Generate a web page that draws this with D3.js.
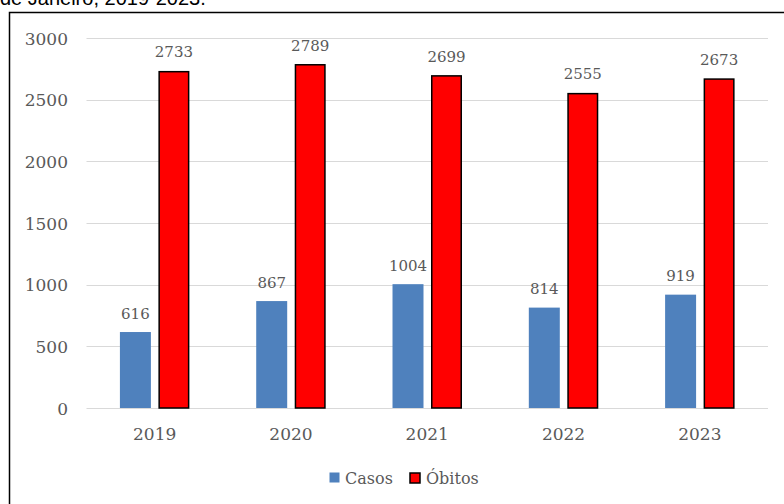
<!DOCTYPE html>
<html>
<head>
<meta charset="utf-8">
<script src="https://cdn.jsdelivr.net/npm/d3@7"></script>
<style>
  html, body { margin: 0; padding: 0; background: #fff; }
  svg { display: block; }
</style>
</head>
<body>
<script>
const years = ["2019", "2020", "2021", "2022", "2023"];
const seriesNames = ["Casos", "Óbitos"];
const casos = [616, 867, 1004, 814, 919];
const obitos = [2733, 2789, 2699, 2555, 2673];
const yTicks = [0, 500, 1000, 1500, 2000, 2500, 3000];
const titleText = "de Janeiro, 2019-2023.";

const W = 784, H = 504;
const colors = { "Casos": "#4F81BD", "Óbitos": "#FF0000" };
const textColor = "#595959";
const serif = "'DejaVu Serif', serif";

const svg = d3.select("body").append("svg").attr("width", W).attr("height", H);

// cut-off title above frame (as in the reference)
svg.append("text").attr("x", 0).attr("y", 5)
  .attr("font-family", "'Liberation Sans', Arial, sans-serif")
  .attr("font-size", 20).attr("fill", "#000").text(titleText);

// frame (left + top edges visible)
svg.append("path").attr("d", `M9.5,${H + 2} L9.5,12.5 L${W + 2},12.5`)
  .attr("fill", "none").attr("stroke", "#000").attr("stroke-width", 1.5);

const x = d3.scaleBand().domain(years).range([86.5, 768]);
const xs = d3.scaleBand().domain(seriesNames).range([0, x.bandwidth()])
  .paddingInner(0.195).paddingOuter(0.868);
const y = d3.scaleLinear().domain([0, 3000]).range([408, 38]);

// gridlines
svg.append("g").selectAll("line").data(yTicks).join("line")
  .attr("x1", 86.5).attr("x2", 768)
  .attr("y1", d => Math.round(y(d)) + 0.5).attr("y2", d => Math.round(y(d)) + 0.5)
  .attr("stroke", "#D9D9D9").attr("stroke-width", 1);

// y labels
svg.append("g").selectAll("text").data(yTicks).join("text")
  .attr("x", 68).attr("y", d => y(d) + 6.5)
  .attr("text-anchor", "end")
  .attr("font-family", serif).attr("font-size", 17).attr("fill", textColor)
  .text(d => d);

// x labels
svg.append("g").selectAll("text").data(years).join("text")
  .attr("x", d => x(d) + x.bandwidth() / 2).attr("y", 440)
  .attr("text-anchor", "middle")
  .attr("font-family", serif).attr("font-size", 17).attr("fill", textColor)
  .text(d => d);

const data = [];
years.forEach((yr, i) => {
  data.push({ year: yr, s: "Casos", v: casos[i] });
  data.push({ year: yr, s: "Óbitos", v: obitos[i] });
});

// bars
svg.append("g").selectAll("rect").data(data).join("rect")
  .attr("x", d => x(d.year) + xs(d.s) + (d.s === "Óbitos" ? 0.75 : 0))
  .attr("width", d => xs.bandwidth() - (d.s === "Óbitos" ? 1.5 : 0))
  .attr("y", d => y(d.v) + (d.s === "Óbitos" ? 0.75 : 0))
  .attr("height", d => y(0) - y(d.v) - (d.s === "Óbitos" ? 0.75 : 0))
  .attr("fill", d => colors[d.s])
  .attr("stroke", d => d.s === "Óbitos" ? "#000" : "none")
  .attr("stroke-width", 1.5);

// value labels
svg.append("g").selectAll("text").data(data).join("text")
  .attr("x", d => x(d.year) + xs(d.s) + xs.bandwidth() / 2)
  .attr("y", d => y(d.v) - 13.5)
  .attr("text-anchor", "middle")
  .attr("font-family", serif).attr("font-size", 15).attr("fill", textColor)
  .text(d => d.v);

// legend
const leg = svg.append("g");
leg.append("rect").attr("x", 329.5).attr("y", 472.5).attr("width", 10).attr("height", 10)
  .attr("fill", colors["Casos"]);
leg.append("text").attr("x", 345).attr("y", 484)
  .attr("font-family", serif).attr("font-size", 16).attr("fill", textColor).text("Casos");
leg.append("rect").attr("x", 410).attr("y", 473).attr("width", 10).attr("height", 10)
  .attr("fill", colors["Óbitos"]).attr("stroke", "#000").attr("stroke-width", 1.5);
leg.append("text").attr("x", 426).attr("y", 484)
  .attr("font-family", serif).attr("font-size", 16).attr("fill", textColor).text("Óbitos");
</script>
</body>
</html>
